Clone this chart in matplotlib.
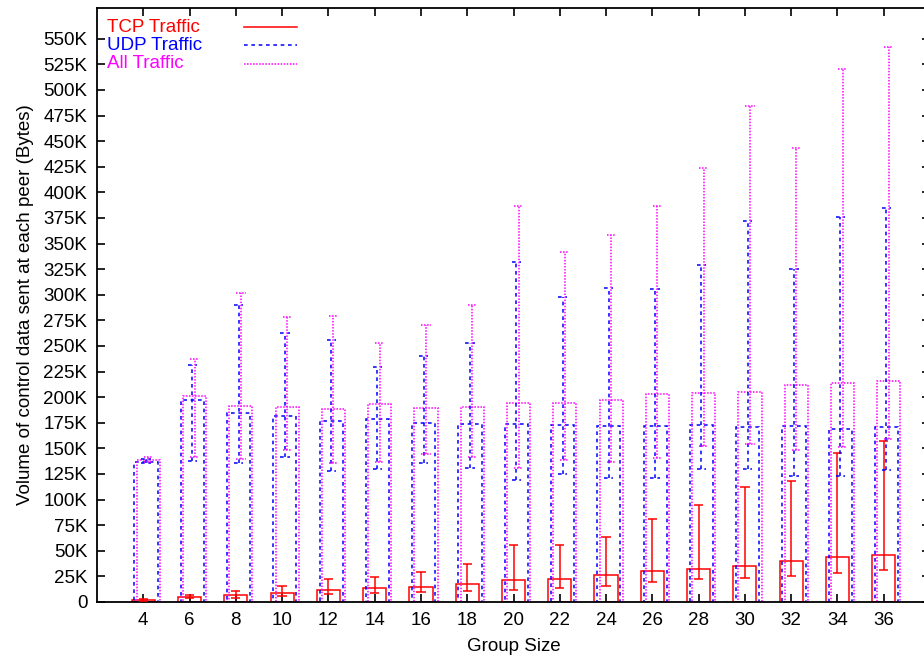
import numpy as np
import matplotlib
matplotlib.use('Agg')
import matplotlib.pyplot as plt
from matplotlib.lines import Line2D

plt.rcParams['font.family'] = ['Liberation Sans', 'DejaVu Sans']

# dati (valori in K byte)
groups = [4, 6, 8, 10, 12, 14, 16, 18, 20, 22, 24, 26, 28, 30, 32, 34, 36]

tcp_mean = [1.5, 5.2, 6.5, 9.1, 11.7, 13.4, 14.3, 17.3, 21.2, 22.2, 26.0, 30.7, 32.6, 34.9, 40.2, 44.3, 45.5]
tcp_low = [0.5, 3.6, 3.5, 6.2, 7.5, 8.5, 9.5, 10.4, 11.4, 14.0, 15.6, 19.3, 22.3, 23.9, 25.4, 28.4, 31.0]
tcp_high = [3.0, 6.8, 11.0, 15.3, 22.1, 24.0, 29.6, 37.5, 56.0, 55.7, 63.8, 80.7, 94.7, 112.5, 118.2, 145.5, 157.6]

udp_mean = [137, 197, 185, 181.7, 176.5, 178.8, 174.6, 173.6, 173.6, 172.6, 172.0, 171.6, 172.4, 170.8, 172.0, 169.3, 170.5]
udp_low = [136, 138, 135.5, 142, 128, 130, 135.5, 130.6, 119, 124.8, 121.5, 121, 129.5, 130.3, 123.5, 123.5, 128.8]
udp_high = [140, 231.5, 290, 262.5, 256, 229, 240, 252.7, 331.5, 297.7, 306.5, 306, 328.8, 371.6, 325, 376, 384.5]

all_mean = [138.7, 201.6, 191.5, 190.5, 188, 193, 189, 190.8, 194, 194.7, 197.4, 202.7, 204.5, 205.3, 211.7, 213.6, 216]
all_low = [137, 142, 139.7, 148.5, 136, 137, 144.6, 142, 130.6, 138.7, 136.5, 140.5, 152.3, 154.5, 148.9, 151.5, 159.5]
all_high = [141.5, 237.7, 301.6, 277.8, 278.8, 253, 270, 289.9, 387, 342, 358, 387, 423.5, 484, 443, 520.8, 542]

labels = ['TCP Traffic', 'UDP Traffic', 'All Traffic']
colors = ['#ff0000', '#0000ff', '#ff00ff']
styles = ['-', (0, (2.4, 2.4)), (0, (1.0, 1.0))]
offsets = [0.0, 0.12, 0.22]

fig = plt.figure(figsize=(9.24, 6.62), dpi=100)
ax = fig.add_axes([97/924, 60/662, 833/924, 594/662])

x = np.array(groups, dtype=float)
series = [(tcp_mean, tcp_low, tcp_high), (udp_mean, udp_low, udp_high), (all_mean, all_low, all_high)]

for (m, lo, hi), c, ls, off in zip(series, colors, styles, offsets):
    xs = x + off
    ax.bar(xs, m, width=1.0, fill=False, edgecolor=c, linestyle=ls, linewidth=1.1, zorder=2)
    ax.vlines(xs, lo, hi, colors=c, linestyles=ls, linewidth=1.1, zorder=3)
    ax.hlines(lo, xs - 0.2, xs + 0.2, colors=c, linestyles=ls, linewidth=1.1, zorder=3)
    ax.hlines(hi, xs - 0.2, xs + 0.2, colors=c, linestyles=ls, linewidth=1.1, zorder=3)

ax.set_xlim(2, 38)
ax.set_ylim(0, 580)
ax.set_xticks(groups)
yt = np.arange(0, 551, 25)
ax.set_yticks(yt)
ax.set_yticklabels(['0'] + ['%dK' % v for v in yt[1:]])
ax.tick_params(direction='in', length=6, width=1.2, top=True, right=True, labelsize=13.5, pad=7)
for s in ax.spines.values():
    s.set_linewidth(1.3)

ax.set_xlabel('Group Size', fontsize=13.5, labelpad=7)
ax.set_ylabel('Volume of control data sent at each peer (Bytes)', fontsize=13.5, labelpad=7)

# legenda stile gnuplot
for i, (lab, c, ls) in enumerate(zip(labels, colors, styles)):
    yy = 0.968 - i * 0.031
    ax.text(0.012, yy, lab, color=c, fontsize=13.5, transform=ax.transAxes, va='center', ha='left')
    ax.add_line(Line2D([0.176, 0.240], [yy, yy], color=c, linestyle=ls, linewidth=1.1, transform=ax.transAxes))

fig.savefig('out.png', dpi=100)
